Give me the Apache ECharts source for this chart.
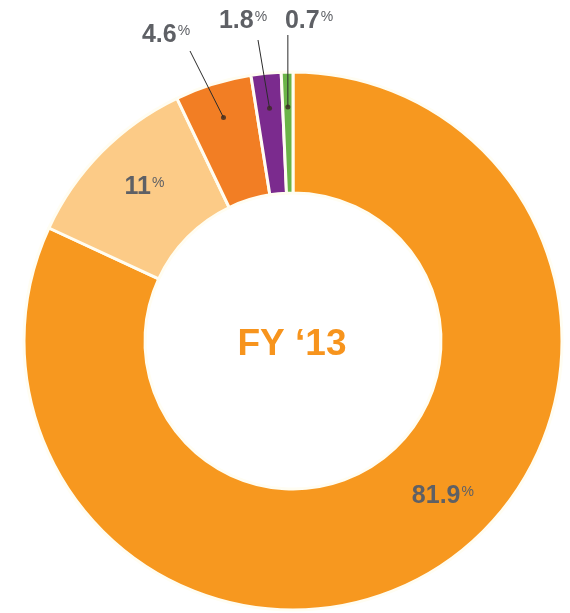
<!DOCTYPE html>
<html>
<head>
<meta charset="utf-8">
<script src="https://cdn.jsdelivr.net/npm/echarts@6/dist/echarts.min.js"></script>
<style>
  html, body { margin: 0; padding: 0; background: #fff; }
  #chart { width: 570px; height: 613px; }
</style>
</head>
<body>
<div id="chart"></div>
<script>
(function() {
	'use strict';

	// share of total, clockwise from 12 o'clock
	var names = ['A', 'B', 'C', 'D', 'E'];
	var values = [81.9, 11, 4.6, 1.8, 0.7];
	var colors = ['#F7981F', '#FCCB87', '#F27E24', '#7B2B8E', '#6BB447'];
	var centerTitle = 'FY \u201813';

	var cx = 293, cy = 341;
	var rIn = 148, rOut = 269, rDot = 234;
	var labelFont = '"Liberation Sans", Arial, sans-serif';
	var gray = '#5E6065';

	var total = 0;
	values.forEach(function(v) { total += v; });

	var pieData = [];
	var dots = [];
	var acc = 0;
	values.forEach(function(v, i) {
		pieData.push({ name: names[i], value: v, itemStyle: { color: colors[i] } });
		if (i >= 2) {
			dots.push([rDot, (acc + v / 2) / total * 100]);
		}
		acc += v;
	});

	var rich = {
		n: { fontSize: 25, fontWeight: 'bold', color: gray, fontFamily: labelFont, lineHeight: 28 },
		p: { fontSize: 14, color: gray, fontFamily: labelFont, lineHeight: 14, verticalAlign: 'top', padding: [3, 0, 0, 1] }
	};

	var myChart = echarts.init(document.getElementById('chart'), null, { renderer: 'canvas' });
	var option = {
		animation: false,
		backgroundColor: '#fff',
		title: {
			text: centerTitle,
			left: 287,
			top: 340,
			textAlign: 'center',
			textVerticalAlign: 'middle',
			textStyle: { color: '#F7941D', fontSize: 37, fontWeight: 'bold', fontFamily: labelFont }
		},
		polar: { center: [cx, cy], radius: rOut },
		angleAxis: { type: 'value', min: 0, max: 100, startAngle: 90, show: false },
		radiusAxis: { type: 'value', min: 0, max: rOut, show: false },
		series: [
			{
				type: 'pie',
				center: [cx, cy],
				radius: [rIn, rOut],
				startAngle: 90,
				clockwise: true,
				silent: true,
				itemStyle: { borderColor: '#FFFDF2', borderWidth: 3 },
				label: {
					show: true,
					position: 'inside',
					formatter: function(p) {
						return p.dataIndex < 2 ? '{n|' + p.value + '}{p|%}' : '';
					},
					rich: rich
				},
				labelLine: { show: false },
				labelLayout: function(params) {
					if (params.dataIndex === 0) return { dx: 36, dy: -23 };
					if (params.dataIndex === 1) return { dx: 2, dy: -5 };
					return {};
				},
				data: pieData
			},
			{
				// transparent copy: only used to anchor the leader lines at the dots
				type: 'pie',
				center: [cx, cy],
				radius: [0, rDot],
				startAngle: 90,
				clockwise: true,
				silent: true,
				z: 3,
				itemStyle: { color: 'rgba(0,0,0,0)' },
				label: {
					show: true,
					position: 'outside',
					formatter: function(p) {
						return p.dataIndex >= 2 ? '{n|' + p.value + '}{p|%}' : '';
					},
					rich: rich
				},
				labelLine: {
					show: true,
					length: 40,
					length2: 0,
					lineStyle: { color: '#2b2b2b', width: 1 }
				},
				labelLayout: function(params) {
					// label centre and end of the leader line under it
					var pos = { 2: [166, 35, 190, 51], 3: [243, 21, 258, 40], 4: [309, 21, null, 35] };
					var p = pos[params.dataIndex];
					if (!p) return {};
					var start = params.labelLinePoints[0];
					var end = [p[2] === null ? start[0] : p[2], p[3]];
					return {
						x: p[0], y: p[1], align: 'center', verticalAlign: 'middle',
						labelLinePoints: [start, end, end]
					};
				},
				data: pieData.map(function(d, i) {
					return {
						name: d.name,
						value: d.value,
						labelLine: { show: i >= 2 },
						label: { show: i >= 2 }
					};
				})
			},
			{
				type: 'scatter',
				coordinateSystem: 'polar',
				symbol: 'circle',
				symbolSize: 5,
				silent: true,
				z: 4,
				itemStyle: { color: '#3a2a22' },
				data: dots
			}
		]
	};
	myChart.setOption(option);
})();
</script>
</body>
</html>
